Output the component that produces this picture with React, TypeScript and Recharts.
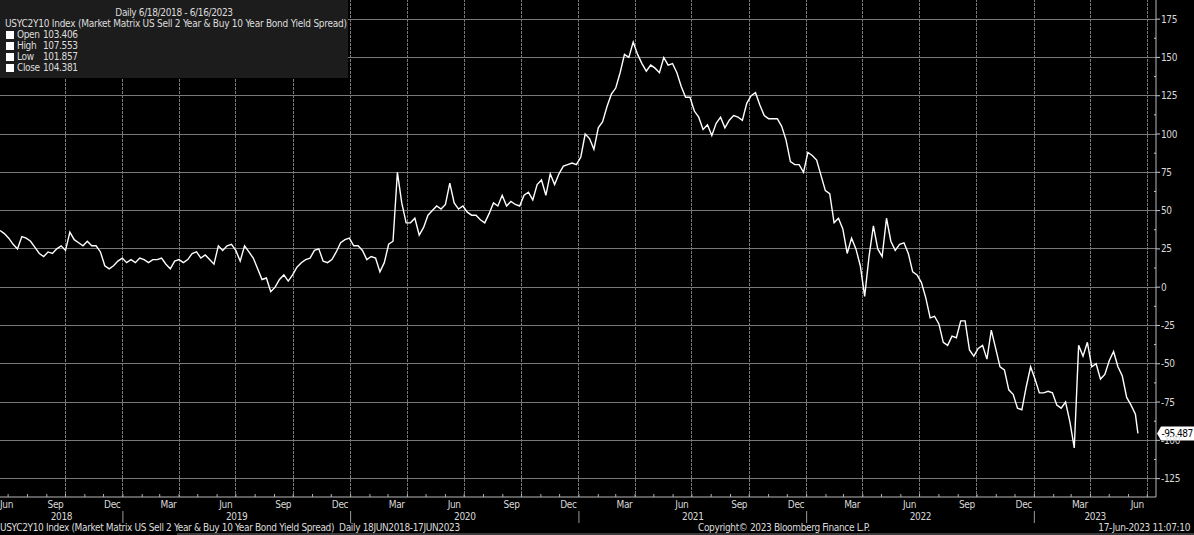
import React from "react";
import { LineChart, Line, XAxis, YAxis, ReferenceLine, CartesianGrid } from "recharts";

const FONT = "'Liberation Sans Narrow', 'DejaVu Sans Condensed', 'Arial Narrow', sans-serif";
const DAY = 86400000;
const START = Date.UTC(2018, 5, 18);
const X0 = START;
const X1 = START + 1853 * DAY;
const LAST_DATE = Date.UTC(2023, 5, 16);
const LAST_VALUE = -95.487;

// weekly readings of the 2s10s spread (bp), one per week from Mon 18 Jun 2018
const weekly = [
  37, 35, 32, 28, 25, 33, 32, 30, 26, 22, 20, 23, 22, 25, 27, 24, 36, 31, 29, 27,
  30, 27, 27, 23, 14, 12, 14, 17, 19, 16, 18, 16, 19, 18, 16, 18, 18, 19, 15, 12,
  17, 18, 16, 18, 22, 23, 19, 21, 18, 15, 27, 24, 27, 28, 24, 17, 27, 23, 19, 12,
  5, 6, -3, 0, 5, 8, 4, 8, 13, 16, 18, 19, 24, 25, 17, 16, 18, 23, 29, 31,
  32, 27, 27, 24, 18, 20, 19, 10, 16, 28, 30, 75, 55, 42, 42, 45, 34, 39, 47, 50,
  53, 51, 54, 68, 55, 51, 53, 49, 47, 47, 44, 42, 48, 55, 53, 60, 53, 56, 54, 53,
  60, 62, 57, 67, 70, 60, 74, 67, 74, 79, 80, 81, 80, 85, 100, 97, 90, 104, 108, 118,
  126, 130, 140, 152, 150, 160, 152, 146, 141, 145, 143, 140, 150, 145, 146, 140, 131, 124, 124, 115,
  111, 103, 106, 99, 107, 111, 104, 109, 112, 111, 109, 120, 125, 127, 119, 112, 110, 110, 110, 105,
  96, 82, 80, 80, 75, 88, 86, 83, 73, 63, 61, 42, 45, 38, 22, 32, 25, 14, -6, 20,
  40, 25, 20, 45, 30, 24, 28, 29, 22, 10, 8, 3, -7, -20, -19, -24, -36, -38, -32, -33,
  -22, -22, -41, -45, -40, -38, -47, -28, -40, -52, -54, -67, -70, -79, -80, -65, -52, -60, -69, -69,
  -68, -69, -77, -79, -75, -88, -105, -38, -45, -36, -52, -50, -60, -57, -48, -42, -52, -58, -72, -77,
  -83,
];

const data = weekly.map((v, i) => ({ t: START + i * 7 * DAY, v }));
data.push({ t: LAST_DATE, v: LAST_VALUE });

const MONTHS = ["Jan", "Feb", "Mar", "Apr", "May", "Jun", "Jul", "Aug", "Sep", "Oct", "Nov", "Dec"];
const YEARS = [2018, 2019, 2020, 2021, 2022, 2023];
const yGrid = [175, 150, 125, 100, 75, 50, 25, 0, -25, -50, -75, -100, -125];
const yTicks: number[] = [];
for (let v = -125; v <= 175; v += 12.5) yTicks.push(v);

type TickInfo = { mark?: boolean; sep?: boolean; label?: string; anchor?: "start" | "middle"; year?: string };
const tickInfo = new Map<number, TickInfo>();
const addTick = (t: number, info: TickInfo) => {
  tickInfo.set(t, { ...(tickInfo.get(t) || {}), ...info });
};
const xGrid: number[] = [];
for (const y of YEARS) {
  for (let m = 0; m < 12; m++) {
    const t = Date.UTC(y, m, 1);
    if (t > X0 && t < X1) {
      addTick(t, { mark: true });
      if (m % 3 === 0 && t > Date.UTC(2018, 8, 1)) xGrid.push(t);
      if (m === 0) addTick(t, { sep: true });
    }
    const mid = Date.UTC(y, m, 15);
    if (m % 3 === 2 && mid > X0 && mid < X1) addTick(mid, { label: MONTHS[m] });
  }
  const a = Math.max(X0, Date.UTC(y, 0, 1));
  const b = Math.min(X1, Date.UTC(y + 1, 0, 1));
  addTick((a + b) / 2, { year: String(y) });
}
addTick(X0, { label: "Jun", anchor: "start" });
const xTicks = Array.from(tickInfo.keys()).sort((p, q) => p - q);

const LS = -0.35;
const GRID = "#787878";

function XTick(props: any) {
  const { x, y, payload } = props;
  const info = tickInfo.get(payload.value);
  if (!info) return null;
  return (
    <g>
      {info.mark && <line x1={x} x2={x} y1={y} y2={y - 3} stroke="#b0b0b0" />}
      {info.sep && <line x1={x} x2={x} y1={y + 14} y2={y + 26} stroke="#9a9a9a" />}
      {info.label && (
        <text x={x} y={y + 11} textAnchor={info.anchor || "middle"} fill="#d8d8d8" fontSize={10} fontFamily={FONT} letterSpacing={LS}>
          {info.label}
        </text>
      )}
      {info.year && (
        <text x={x} y={y + 23} textAnchor="middle" fill="#d8d8d8" fontSize={10} fontFamily={FONT} letterSpacing={LS}>
          {info.year}
        </text>
      )}
    </g>
  );
}

function YTick(props: any) {
  const { x, y, payload } = props;
  const v = payload.value as number;
  const major = v % 25 === 0;
  return (
    <g>
      {major ? (
        <line x1={x} x2={x + 4} y1={y} y2={y} stroke="#c8c8c8" />
      ) : (
        <line x1={x - 2} x2={x} y1={y} y2={y} stroke="#c8c8c8" />
      )}
      {major && (
        <text x={x + 5} y={y} dy={3.5} fill="#d8d8d8" fontSize={10} fontFamily={FONT} letterSpacing={LS}>
          {v}
        </text>
      )}
    </g>
  );
}

function PriceTag(props: any) {
  const vb = props.viewBox || {};
  const x = (vb.x || 0) + (vb.width || 0);
  const y = vb.y || 0;
  return (
    <g>
      <path
        d={`M${x + 1},${y} L${x + 5},${y - 7} L${x + 38},${y - 7} L${x + 38},${y + 7} L${x + 5},${y + 7} Z`}
        fill="#ffffff"
      />
      <text x={x + 5.5} y={y} dy={3.5} fill="#000" fontSize={10} fontFamily={FONT} letterSpacing={-0.5}>
        {LAST_VALUE.toFixed(3)}
      </text>
    </g>
  );
}

const textStyle: React.CSSProperties = {
  position: "absolute",
  fontFamily: FONT,
  fontSize: 10,
  lineHeight: "12px",
  color: "#dcdcdc",
  whiteSpace: "nowrap",
  letterSpacing: LS,
};

const legendRows = [
  { name: "Open", value: "103.406" },
  { name: "High", value: "107.553" },
  { name: "Low", value: "101.857" },
  { name: "Close", value: "104.381" },
];

export default function App() {
  return (
    <div style={{ position: "absolute", left: 0, top: 0, width: 1194, height: 535, background: "#000", overflow: "hidden" }}>
      <LineChart width={1194} height={535} data={data} margin={{ top: 0, right: 0, left: 0, bottom: 0 }}>
        <CartesianGrid
          stroke={GRID}
          strokeWidth={1}
          strokeDasharray="2 2"
          shapeRendering="crispEdges"
          verticalValues={xGrid}
          horizontalValues={yGrid}
        />
        {xGrid.map((t) => (
          <ReferenceLine key={"gx" + t} x={t} stroke={GRID} strokeDasharray="2 2" shapeRendering="crispEdges" />
        ))}
        {yGrid.map((v) => (
          <ReferenceLine key={"gy" + v} y={v} stroke={GRID} strokeDasharray="2 2" shapeRendering="crispEdges" />
        ))}
        <XAxis
          dataKey="t"
          type="number"
          domain={[X0, X1]}
          allowDataOverflow
          ticks={xTicks}
          interval={0}
          tick={<XTick />}
          tickLine={false}
          tickSize={0}
          tickMargin={0}
          height={38}
          axisLine={{ stroke: "#b8b8b8" }}
        />
        <YAxis
          orientation="right"
          domain={[-137, 187.5]}
          allowDataOverflow
          ticks={yTicks}
          interval={0}
          tick={<YTick />}
          tickLine={false}
          tickSize={0}
          tickMargin={0}
          width={38}
          axisLine={{ stroke: "#b8b8b8" }}
        />
        <Line type="linear" dataKey="v" stroke="#ffffff" strokeWidth={1.4} dot={false} isAnimationActive={false} />
        <ReferenceLine y={LAST_VALUE} stroke="none" label={<PriceTag />} />
      </LineChart>

      <div style={{ position: "absolute", left: 0, top: 0, width: 348, height: 78, background: "#1c1c1c" }}>
        <div style={{ ...textStyle, left: 0, width: 348, top: 7, textAlign: "center" }}>Daily 6/18/2018 - 6/16/2023</div>
        <div style={{ ...textStyle, left: 5, top: 18, letterSpacing: -0.25 }}>
          USYC2Y10 Index (Market Matrix US Sell 2 Year &amp; Buy 10 Year Bond Yield Spread)
        </div>
        {legendRows.map((r, i) => (
          <div key={r.name} style={{ ...textStyle, left: 0, top: 29 + i * 11 }}>
            <span style={{ position: "absolute", left: 6, top: 2, width: 8, height: 8, background: "#fff" }} />
            <span style={{ position: "absolute", left: 17 }}>{r.name}</span>
            <span style={{ position: "absolute", left: 43 }}>{r.value}</span>
          </div>
        ))}
      </div>

      <div style={{ ...textStyle, left: 0, top: 522 }}>
        USYC2Y10 Index (Market Matrix US Sell 2 Year &amp; Buy 10 Year Bond Yield Spread)&nbsp; Daily 18JUN2018-17JUN2023
      </div>
      <div style={{ ...textStyle, left: 698, top: 522 }}>Copyright© 2023 Bloomberg Finance L.P.</div>
      <div style={{ ...textStyle, right: 4, top: 522 }}>17-Jun-2023 11:07:10</div>
      <div style={{ position: "absolute", left: 177, top: 533, width: 1017, height: 2, background: "#3a3a3a" }} />
    </div>
  );
}
